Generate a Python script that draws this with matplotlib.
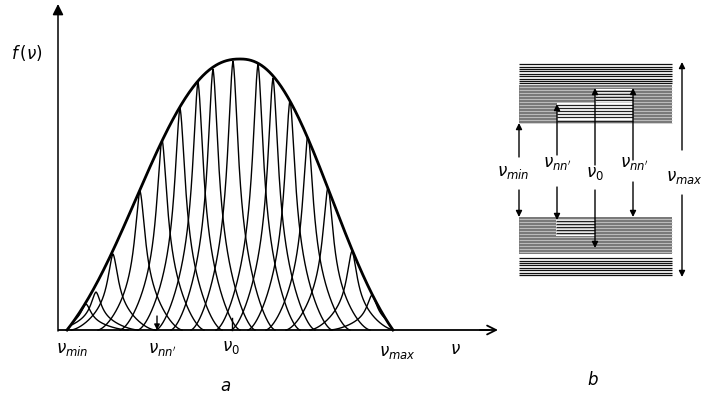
import numpy as np
import matplotlib.pyplot as plt
from matplotlib.patches import Rectangle

plt.rcParams['mathtext.fontset'] = 'dejavusans'

# panel a: line positions (nu, in figure px) and peak tops
peak_x = [86, 96, 113, 140, 162, 180, 198, 213, 233, 258, 273, 290, 308, 328, 352, 372]
peak_top = [304, 292, 254, 191, 139, 108, 82, 69, 61, 64, 78, 100, 134, 187, 251, 295]

base_y = 330          # nu axis
env_center = 240      # envelope maximum
env_top = 59
env_left, env_right = 67, 393

# panel b: level arrows
b_arrow_x = [519, 557, 595, 633, 682]
b_up = [(157, 123), (155, 104), (165, 88), (160, 88), (150, 62)]
b_down = [(190, 217), (187, 220), (190, 248), (182, 217), (195, 277)]
b_labels = [r'$\nu_{min}$', r"$\nu_{nn'}$", r'$\nu_0$', r"$\nu_{nn'}$", r'$\nu_{max}$']
b_label_xy = [(513, 172), (557, 163), (595, 173), (634, 163), (684, 177)]


def envelope(x):
    L = np.where(x < env_center, env_center - env_left, env_right - env_center)
    u = np.clip(np.abs(x - env_center) / L, 0, 1)
    k, p = 1.3, 2.3
    c = np.exp(-k ** p)
    return (np.exp(-(k * u) ** p) - c) / (1 - c)


def line_shape(dx, w=6.0, W=42.0):
    # narrow core plus a wider foot that reaches the axis at |dx| = W
    d = np.minimum(np.abs(dx), W)
    lor = 1.0 / (1 + (d / w) ** 2)
    cut = 1.0 / (1 + (W / w) ** 2)
    core = (lor - cut) / (1 - cut)
    foot = (1 - d / W) ** 1.6
    return 0.55 * core + 0.45 * foot


fig = plt.figure(figsize=(7.04, 3.99), dpi=100)
ax = fig.add_axes([0, 0, 1, 1])
ax.set_xlim(0, 704)
ax.set_ylim(399, 0)
ax.axis('off')

# axes of panel a
ax.annotate('', xy=(58, 4), xytext=(58, base_y + 1),
            arrowprops=dict(arrowstyle='-|>', lw=1.1, color='black', mutation_scale=16, shrinkA=0, shrinkB=0))
ax.plot([58, 490], [base_y, base_y], color='black', lw=1.3, solid_capstyle='butt')
ax.annotate('', xy=(498, base_y), xytext=(480, base_y),
            arrowprops=dict(arrowstyle='->', lw=1.3, color='black', mutation_scale=16, shrinkA=0, shrinkB=0))

H = base_y - env_top

# individual lines, kept under the envelope
for x0, yt in zip(peak_x, peak_top):
    xs = np.linspace(max(x0 - 42, env_left), min(x0 + 42, env_right), 800)
    h = base_y - yt
    ys = np.minimum(h * line_shape(xs - x0), H * envelope(xs))
    ax.plot(xs, base_y - ys, color='black', lw=1.0)

# envelope
xe = np.linspace(env_left, env_right, 500)
ax.plot(xe, base_y - H * envelope(xe), color='black', lw=2.0)

# small marks on the axis
ax.annotate('', xy=(157, base_y), xytext=(157, 316),
            arrowprops=dict(arrowstyle='-|>', lw=1.0, color='black', mutation_scale=8, shrinkA=0, shrinkB=0))
ax.plot([232, 232], [318, base_y], color='black', lw=1.0)

fs = 12
ax.text(27, 53, r'$f\,(\nu)$', fontsize=fs, ha='center', va='center')
ax.text(72, 349, r'$\nu_{min}$', fontsize=fs, ha='center', va='center')
ax.text(162, 349, r"$\nu_{nn'}$", fontsize=fs, ha='center', va='center')
ax.text(231, 347, r'$\nu_0$', fontsize=fs, ha='center', va='center')
ax.text(397, 352, r'$\nu_{max}$', fontsize=fs, ha='center', va='center')
ax.text(455, 349, r'$\nu$', fontsize=fs, ha='center', va='center')
ax.text(226, 386, r'$a$', fontsize=fs, ha='center', va='center')
ax.text(593, 380, r'$b$', fontsize=fs, ha='center', va='center')


# panel b: hatched bands
def band(x0, x1, y0, y1, bg, lc, step, lw):
    ax.add_patch(Rectangle((x0, y0), x1 - x0, y1 - y0, facecolor=bg, edgecolor='none'))
    ys = np.arange(y0 + step / 2, y1, step)
    ax.hlines(ys, x0, x1, colors=lc, lw=lw)


band(519, 672, 63, 85, 'white', '#111111', 2.4, 0.9)
band(519, 672, 85, 123, '#7a7a7a', '#c8c8c8', 3.0, 0.6)
band(595, 633, 89, 103, 'white', '#222222', 3.2, 0.9)
band(557, 633, 103, 121, 'white', '#222222', 3.2, 0.9)
band(519, 672, 217, 254, '#7a7a7a', '#c8c8c8', 3.0, 0.6)
band(556, 595, 219, 236, 'white', '#222222', 3.2, 0.9)
band(519, 672, 257, 276, 'white', '#111111', 2.4, 0.9)

for x, (ya, yb), (yc, yd) in zip(b_arrow_x, b_up, b_down):
    ax.annotate('', xy=(x, yb), xytext=(x, ya),
                arrowprops=dict(arrowstyle='-|>', lw=1.0, color='black', mutation_scale=9, shrinkA=0, shrinkB=0))
    ax.annotate('', xy=(x, yd), xytext=(x, yc),
                arrowprops=dict(arrowstyle='-|>', lw=1.0, color='black', mutation_scale=9, shrinkA=0, shrinkB=0))

for lab, (x, y) in zip(b_labels, b_label_xy):
    ax.text(x, y, lab, fontsize=fs, ha='center', va='center')

fig.savefig('out.png', dpi=100)
